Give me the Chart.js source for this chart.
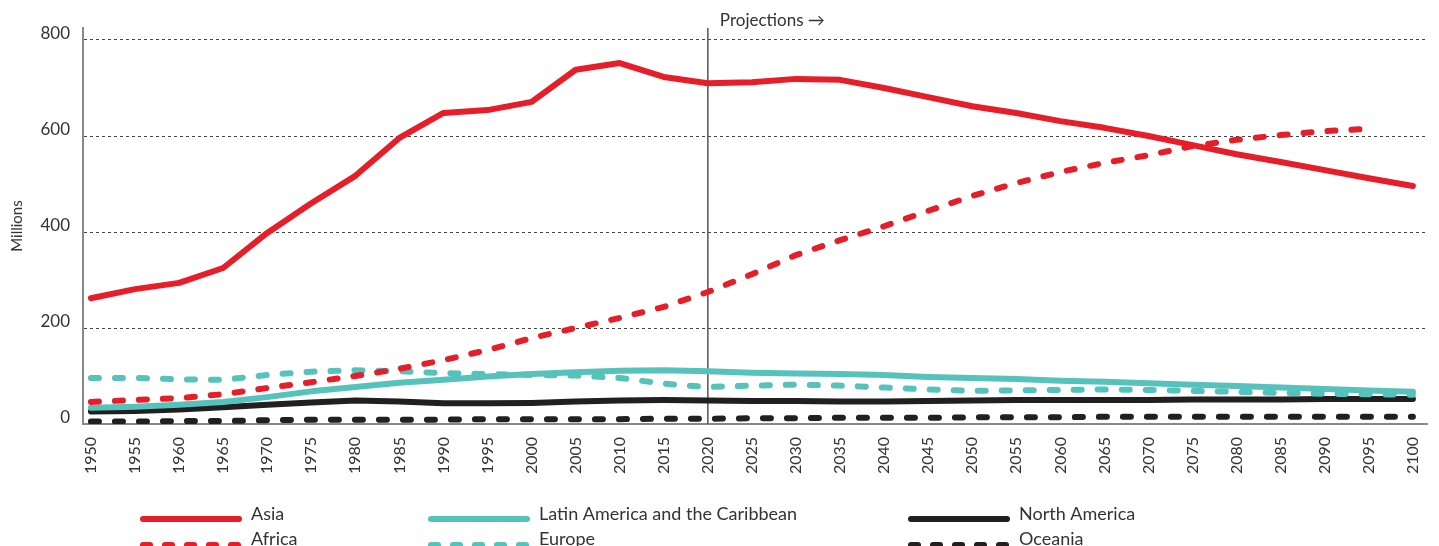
<!DOCTYPE html>
<html><head><meta charset="utf-8">
<script src="https://cdn.jsdelivr.net/npm/chart.js@4"></script>
<style>html,body{margin:0;padding:0;background:#fff}#wrap{width:1439px;height:546px;position:relative}</style>
</head><body><div id="wrap"><canvas id="c" width="1439" height="546"></canvas></div>
<script>
const years = [1950,1955,1960,1965,1970,1975,1980,1985,1990,1995,2000,2005,2010,2015,2020,2025,2030,2035,2040,2045,2050,2055,2060,2065,2070,2075,2080,2085,2090,2095,2100];
const yTicks = [0,200,400,600,800];
const asia = [262,281,294,325,398,460,517,596,648,654,671,738,752,723,710,712,719,717,700,681,662,648,631,617,600,581,562,546,529,512,496];
const africa = [46,50,54,62,75,87,100,115,133,154,179,200,221,244,275,312,352,383,412,444,475,502,525,544,560,579,592,602,610,615];
const latinAmerica = [34,36,40,46,56,68,77,86,92,99,104,108,111,112,110,107,105,104,102,98,96,94,90,88,85,82,79,76,73,70,67];
const europe = [96,96,93,92,102,109,112,110,106,104,102,101,96,84,77,80,82,80,76,72,69,70,71,72,71,69,67,65,63,62,61];
const northAmerica = [26,27,30,35,40,45,49,47,43,43,44,47,49,50,49,48,48,47,47,48,49,50,50,50,50,51,51,51,52,52,52];
const oceania = [5,5,6,6,8,9,9,9,9,10,10,10,10,11,11,12,12,13,13,13,14,14,14,15,15,15,15,15,15,15,15];
const projectionYear = 2020;

const RED = '#E61E2A', TEAL = '#55C2BC', BLACK = '#231F20';
const FONT = 'Lato, "Open Sans", sans-serif';
const pts = arr => arr.map((v, i) => ({x: years[i], y: v}));
const DASH = [8, 16];
const LEGEND_DASH = [7, 15];

function ds(label, arr, color, dashed) {
  return {label, data: pts(arr), borderColor: color, backgroundColor: color, borderWidth: 6,
    pointRadius: 0, tension: 0, borderDash: dashed ? DASH : [], borderCapStyle: 'round', borderJoinStyle: 'round', fill: false};
}
const datasets = [
  ds('Asia', asia, RED, false),
  ds('Africa', africa, RED, true),
  ds('Latin America and the Caribbean', latinAmerica, TEAL, false),
  ds('Europe', europe, TEAL, true),
  ds('North America', northAmerica, BLACK, false),
  ds('Oceania', oceania, BLACK, true)
];

const projPlugin = {
  id: 'proj',
  beforeDatasetsDraw(chart) {
    const {ctx, chartArea, scales} = chart;
    const x = scales.x.getPixelForValue(projectionYear);
    ctx.save();
    ctx.strokeStyle = '#555'; ctx.lineWidth = 1.5;
    ctx.beginPath(); ctx.moveTo(x, chartArea.top); ctx.lineTo(x, chartArea.bottom); ctx.stroke();
    ctx.fillStyle = '#333'; ctx.font = '17px ' + FONT; ctx.textAlign = 'left'; ctx.textBaseline = 'middle';
    ctx.fillText('Projections \u2192', x + 12, 21);
    ctx.restore();
  }
};

const legendPlugin = {
  id: 'customLegend',
  afterDraw(chart) {
    const {ctx} = chart;
    const cols = [140, 428, 908];
    const rows = [{line: 519, text: 520}, {line: 545, text: 545}];
    ctx.save();
    chart.data.datasets.forEach((d, i) => {
      const c = Math.floor(i / 2), r = i % 2;
      const x0 = cols[c], y = rows[r].line;
      ctx.strokeStyle = d.borderColor; ctx.lineWidth = 6; ctx.lineCap = 'round';
      ctx.setLineDash(d.borderDash && d.borderDash.length ? LEGEND_DASH : []);
      ctx.beginPath(); ctx.moveTo(x0 + 3, y); ctx.lineTo(x0 + 99, y); ctx.stroke();
      ctx.setLineDash([]);
      ctx.fillStyle = '#333'; ctx.font = '18px ' + FONT; ctx.textAlign = 'left'; ctx.textBaseline = 'alphabetic';
      ctx.fillText(d.label, x0 + 111, rows[r].text);
    });
    ctx.restore();
  }
};

new Chart(document.getElementById('c'), {
  type: 'line',
  data: {datasets},
  options: {
    responsive: false, maintainAspectRatio: false, animation: false,
    layout: {padding: {top: 28, right: 12, left: 0, bottom: 0}},
    plugins: {legend: {display: false}, tooltip: {enabled: false}},
    scales: {
      x: {
        type: 'linear', min: 1949.1, max: 2101.6,
        afterBuildTicks: s => { s.ticks = years.map(v => ({value: v})); },
        afterFit: s => { s.height = 122; s.paddingLeft = 0; s.paddingRight = 0; },
        ticks: {autoSkip: false, minRotation: 90, maxRotation: 90, padding: 13, color: '#333',
          font: {family: FONT, size: 16}, callback: v => String(v)},
        grid: {display: false, drawTicks: false},
        border: {display: true, color: '#888', width: 2}
      },
      y: {
        type: 'linear', min: 0, max: 825,
        afterBuildTicks: s => { s.ticks = yTicks.map(v => ({value: v})); },
        afterFit: s => { s.width = 83; },
        ticks: {padding: 13, color: '#333', font: {family: FONT, size: 17, lineHeight: '12px'}, callback: v => [String(v), '']},
        grid: {drawTicks: false, lineWidth: 1, color: c => (c.tick && c.tick.value === 0) ? 'rgba(0,0,0,0)' : '#444'},
        border: {display: true, color: '#888', width: 2, dash: [3, 3]},
        title: {display: true, text: 'Millions', color: '#333', font: {family: FONT, size: 15}, padding: {top: 8, bottom: 0}}
      }
    }
  },
  plugins: [projPlugin, legendPlugin]
});
</script></body></html>
